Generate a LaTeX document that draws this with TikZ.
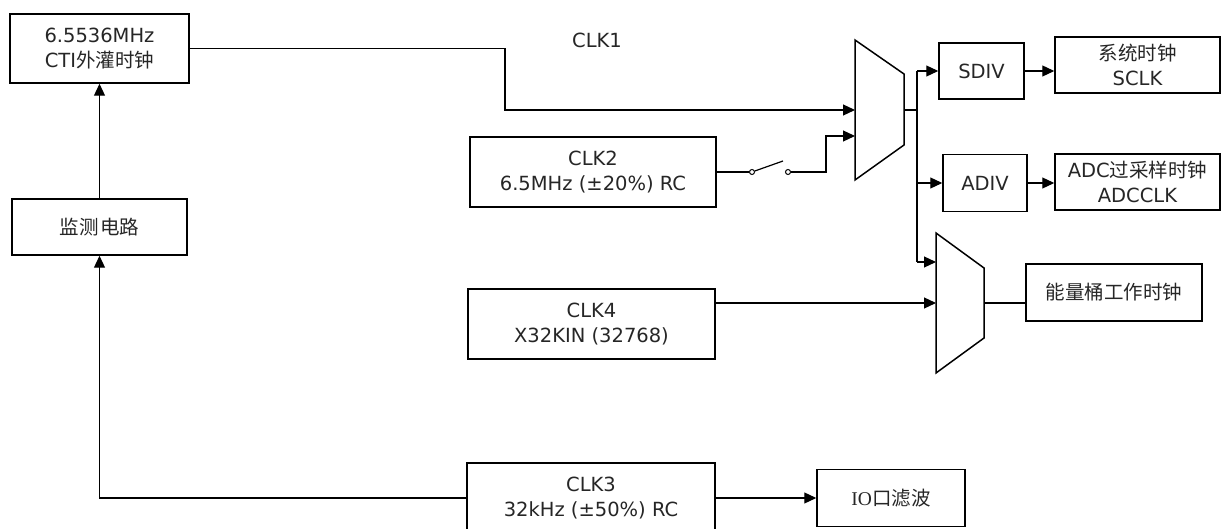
\documentclass[tikz,border=0pt]{standalone}
\usepackage{fontspec}
\setmainfont{DejaVu Sans}
\newfontfamily\cjk{Noto Sans CJK SC}
\newfontfamily\serifio{Liberation Serif}
\usetikzlibrary{arrows.meta}
\begin{document}
\begin{tikzpicture}[x=1pt,y=-1pt,
  box/.style={draw, line width=1.5pt, inner sep=0pt, align=center, text=black!85,
    font=\fontsize{19.5}{24.5}\selectfont},
  wire/.style={line width=1.2pt},
  arr/.style={wire, -{Triangle[length=12pt,width=11pt]}},
  muxshape/.style={draw, line width=1.5pt, line join=miter},
  sw/.style={circle, draw, line width=1pt, inner sep=0pt, minimum size=5pt},
  lbl/.style={font=\fontsize{19.5}{24.5}\selectfont, text=black!85}]
\useasboundingbox (0,0) rectangle (1221,529);
\clip (0,0) rectangle (1221,529);

% boxes
\node[box, minimum width=179pt, minimum height=69pt] (A) at (99.5,48.5) {6.5536MHz\\CTI{\cjk 外灌时钟}};
\node[box, minimum width=175pt, minimum height=56pt] (mon) at (99.5,227) {{\cjk 监测\hspace{2pt}电路}};
\node[box, minimum width=246pt, minimum height=70pt] (clk2) at (593,172) {CLK2\\6.5MHz (±20\%) RC};
\node[box, minimum width=247pt, minimum height=70pt] (clk4) at (591.5,324) {CLK4\\X32KIN (32768)};
\node[box, minimum width=248pt, minimum height=70pt] (clk3) at (591,498) {CLK3\\32kHz (±50\%) RC};
\node[box, minimum width=148pt, minimum height=57pt] (io) at (891,498) {{\serifio IO}{\cjk 口滤波}};
\node[box, minimum width=85pt, minimum height=56pt] (sdiv) at (981.5,71) {SDIV};
\node[box, minimum width=165pt, minimum height=56pt] (sclk) at (1137.5,65) {{\cjk 系统时钟}\\SCLK};
\node[box, minimum width=84pt, minimum height=57pt] (adiv) at (985,183) {ADIV};
\node[box, minimum width=165pt, minimum height=56pt] (adcclk) at (1137.5,182) {ADC{\cjk 过采样时钟}\\ADCCLK};
\node[box, minimum width=176pt, minimum height=57pt] (eng) at (1114,292.5) {{\cjk 能量桶工作时钟}};

\node[lbl] (clk1lbl) at (597,40) {CLK1};

% multiplexers
\draw[muxshape] (855,40) -- (904,74) -- (904,145) -- (855,180) -- cycle;
\draw[muxshape] (936,233) -- (984,268) -- (984,338) -- (936,373) -- cycle;
\coordinate (m1in1) at (855,110);
\coordinate (m1in2) at (855,136);
\coordinate (m1out) at (904,110);
\coordinate (m2in1) at (936,262);
\coordinate (m2in2) at (936,303);
\coordinate (m2out) at (984,303);

% CLK1 path
\coordinate (c1) at (505,110);
\draw[arr] (A.east) -| (c1) -- (m1in1);

% switch
\node[sw] (s1) at (752,172) {};
\node[sw] (s2) at (788,172) {};
\coordinate (lever) at (783,161);
\coordinate (c2) at (826,136);
\draw[wire] (clk2.east) -- (s1.west);
\draw[wire] (s1) -- (lever);
\draw[arr] (s2.east) -| (c2) -- (m1in2);

% distribution
\coordinate (jt) at (917,71);
\coordinate (ja) at (917,183);
\coordinate (jm) at (917,110);
\coordinate (jb) at (917,262);
\draw[wire] (m1out) -- (jm);
\draw[wire] (jt) -- (jb);
\draw[arr] (jt) -- (sdiv.west);
\draw[arr] (ja) -- (adiv.west);
\draw[arr] (jb) -- (m2in1);
\draw[arr] (sdiv.east) -- (sdiv.east -| sclk.west);
\draw[arr] (adiv.east) -- (adiv.east -| adcclk.west);

% CLK4 to mux2, mux2 to energy clock
\draw[arr] (clk4.east |- m2in2) -- (m2in2);
\draw[wire] (m2out) -- (m2out -| eng.west);

% CLK3
\draw[arr] (clk3.east) -- (clk3.east -| io.west);
\draw[arr] (clk3.west) -| (mon.south);
\draw[arr] (mon.north) -- (A.south);
\end{tikzpicture}
\end{document}
